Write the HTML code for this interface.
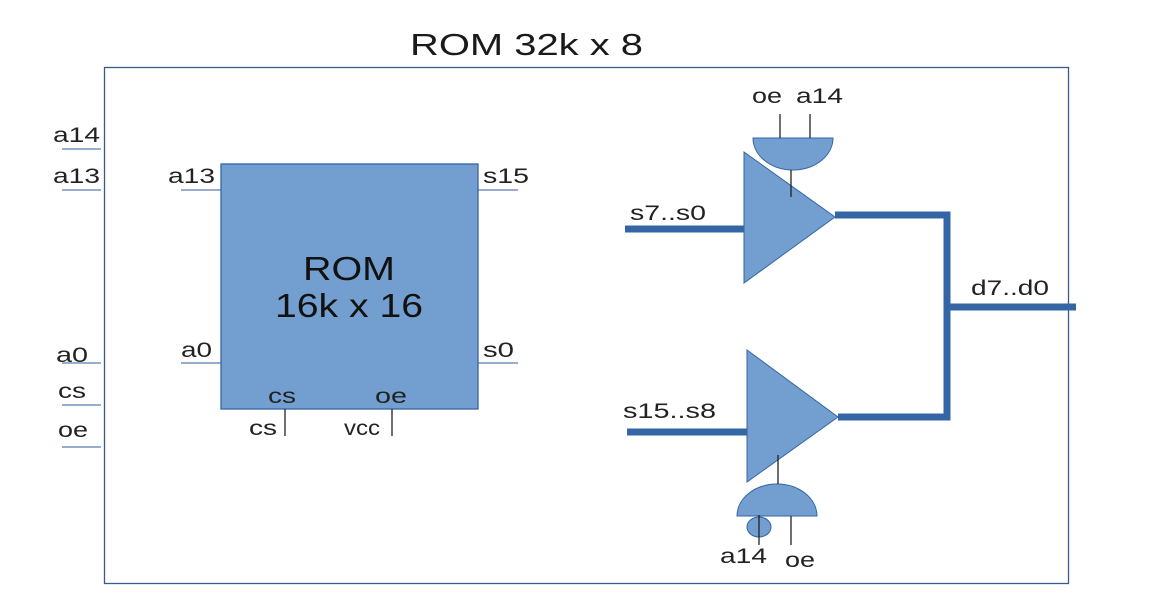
<!DOCTYPE html>
<html><head><style>body{margin:0;background:#fff}</style></head><body>
<svg width="1162" height="598" viewBox="0 0 1162 598" xmlns="http://www.w3.org/2000/svg" font-family="Liberation Sans, sans-serif" fill="#000">
<rect x="104.5" y="67.5" width="964" height="516" fill="none" stroke="#3a5a8c" stroke-width="1.3"/>
<text x="410" y="55" font-size="31" textLength="233" lengthAdjust="spacingAndGlyphs" fill="#1a1a1a">ROM 32k x 8</text>
<g stroke="#5a7bb0" stroke-width="1.3">
<line x1="62" y1="149" x2="101" y2="149"/><line x1="62" y1="190" x2="101" y2="190"/><line x1="62" y1="363" x2="101" y2="363"/><line x1="62" y1="405" x2="101" y2="405"/><line x1="62" y1="447" x2="101" y2="447"/>
<line x1="181" y1="190" x2="221" y2="190"/><line x1="181" y1="363" x2="221" y2="363"/><line x1="478" y1="190" x2="518" y2="190"/><line x1="478" y1="363" x2="518" y2="363"/>
</g>
<rect x="221" y="164" width="257" height="245" fill="#729fcf" stroke="#3465a4" stroke-width="1.3"/>
<text x="303" y="280" font-size="33" textLength="92" lengthAdjust="spacingAndGlyphs" fill="#111">ROM</text>
<text x="275" y="317" font-size="33" textLength="148" lengthAdjust="spacingAndGlyphs" fill="#111">16k x 16</text>
<g font-size="21" fill="#222" lengthAdjust="spacingAndGlyphs">
<text x="53" y="142" textLength="47" lengthAdjust="spacingAndGlyphs">a14</text>
<text x="53" y="183" textLength="47" lengthAdjust="spacingAndGlyphs">a13</text>
<text x="56" y="362" textLength="32" lengthAdjust="spacingAndGlyphs">a0</text>
<text x="58" y="398" textLength="28" lengthAdjust="spacingAndGlyphs">cs</text>
<text x="58" y="437" textLength="30" lengthAdjust="spacingAndGlyphs">oe</text>
<text x="168" y="183" textLength="47" lengthAdjust="spacingAndGlyphs">a13</text>
<text x="181" y="357" textLength="31" lengthAdjust="spacingAndGlyphs">a0</text>
<text x="483" y="183" textLength="46" lengthAdjust="spacingAndGlyphs">s15</text>
<text x="483" y="357" textLength="31" lengthAdjust="spacingAndGlyphs">s0</text>
<text x="268" y="403" textLength="28" lengthAdjust="spacingAndGlyphs">cs</text>
<text x="375" y="403" textLength="32" lengthAdjust="spacingAndGlyphs">oe</text>
<text x="249" y="435" textLength="28" lengthAdjust="spacingAndGlyphs">cs</text>
<text x="344" y="435" textLength="36" lengthAdjust="spacingAndGlyphs">vcc</text>
<text x="752" y="103" textLength="30" lengthAdjust="spacingAndGlyphs">oe</text>
<text x="796" y="103" textLength="47" lengthAdjust="spacingAndGlyphs">a14</text>
<text x="630" y="220" textLength="76" lengthAdjust="spacingAndGlyphs">s7..s0</text>
<text x="623" y="418" textLength="93" lengthAdjust="spacingAndGlyphs">s15..s8</text>
<text x="971" y="295" textLength="78" lengthAdjust="spacingAndGlyphs">d7..d0</text>
<text x="720" y="563" textLength="47" lengthAdjust="spacingAndGlyphs">a14</text>
<text x="785" y="567" textLength="30" lengthAdjust="spacingAndGlyphs">oe</text>
</g>
<g stroke="#222" stroke-width="1.3"><line x1="285" y1="409" x2="285" y2="436"/><line x1="392" y1="409" x2="392" y2="436"/></g>
<g stroke="#3465a4" stroke-width="7" fill="none">
<line x1="625" y1="229" x2="744" y2="229"/><line x1="627" y1="432" x2="747" y2="432"/>
<polyline points="835,215 947,215 947,417 838,417"/>
<line x1="947" y1="307" x2="1076" y2="307"/>
</g>
<polygon points="744,152 835,217 744,283" fill="#729fcf" stroke="#3465a4"/>
<polygon points="747,350 838,417 747,482" fill="#729fcf" stroke="#3465a4"/>
<path d="M753,138 L833,138 A40,32 0 0 1 753,138 Z" fill="#729fcf" stroke="#3465a4"/>
<path d="M737,516 A40,32 0 0 1 817,516 Z" fill="#729fcf" stroke="#3465a4"/>
<ellipse cx="759" cy="527" rx="12" ry="10" fill="#729fcf" stroke="#3465a4"/>
<g stroke="#222" stroke-width="1.3">
<line x1="780" y1="114" x2="780" y2="138"/><line x1="810" y1="114" x2="810" y2="138"/><line x1="791" y1="170" x2="791" y2="197"/>
<line x1="778" y1="455" x2="778" y2="484"/><line x1="759" y1="515" x2="759" y2="545"/><line x1="791" y1="516" x2="791" y2="545"/>
</g>
</svg>
</body></html>
